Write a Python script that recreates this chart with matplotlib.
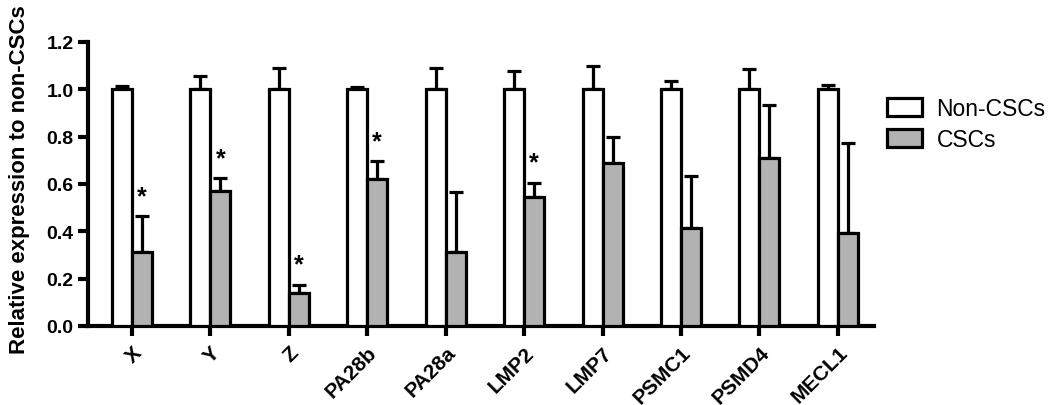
import matplotlib.pyplot as plt
import numpy as np

plt.rcParams['font.family'] = ['Liberation Sans', 'DejaVu Sans']

genes = ['X', 'Y', 'Z', 'PA28b', 'PA28a', 'LMP2', 'LMP7', 'PSMC1', 'PSMD4', 'MECL1']
non_cscs = [1.0, 1.0, 1.0, 1.0, 1.0, 1.0, 1.0, 1.0, 1.0, 1.0]
non_cscs_err = [0.012, 0.057, 0.089, 0.008, 0.089, 0.077, 0.10, 0.036, 0.084, 0.018]
cscs = [0.311, 0.570, 0.139, 0.620, 0.314, 0.545, 0.689, 0.415, 0.710, 0.392]
cscs_err = [0.152, 0.054, 0.036, 0.076, 0.253, 0.059, 0.111, 0.217, 0.224, 0.381]
significant = [True, True, True, True, False, True, False, False, False, False]

def plot_bars(genes, a, a_err, b, b_err, sig):
    fig = plt.figure(figsize=(10.5, 4.06), dpi=100)
    ax = fig.add_axes([0.0838, 0.1946, 0.7486, 0.6995])
    x = np.arange(len(genes))
    w = 0.255
    lw = 2.3
    ax.bar(x - w/2, a, w, color='white', edgecolor='black', linewidth=lw,
           label='Non-CSCs', zorder=3)
    ax.bar(x + w/2, b, w, color='#b2b2b2', edgecolor='black', linewidth=lw,
           label='CSCs', zorder=3)
    ax.errorbar(x - w/2, a, yerr=[np.zeros(len(a)), a_err], fmt='none',
                ecolor='black', elinewidth=2.3, capsize=5, capthick=2.3, zorder=2)
    ax.errorbar(x + w/2, b, yerr=[np.zeros(len(b)), b_err], fmt='none',
                ecolor='black', elinewidth=2.3, capsize=5, capthick=2.3, zorder=2)
    for i in range(len(genes)):
        if sig[i]:
            ax.text(x[i] + w/2, b[i] + b_err[i] + 0.035, '*', ha='center',
                    va='bottom', fontsize=18, fontweight='bold')

    ax.set_xlim(-0.56, len(genes) - 0.54)
    ax.set_ylim(0, 1.2)
    ax.set_yticks(np.arange(0, 1.21, 0.2))
    ax.set_yticklabels([f'{v:.1f}' for v in np.arange(0, 1.21, 0.2)],
                       fontsize=14, fontweight='bold')
    ax.set_xticks(x)
    ax.set_xticklabels(genes, rotation=45, ha='right', rotation_mode='anchor',
                       fontsize=15, fontweight='bold')
    ax.set_ylabel('Relative expression to non-CSCs', fontsize=16, fontweight='bold')
    ax.yaxis.set_label_coords(-0.074, 0.52)
    for s in ['top', 'right']:
        ax.spines[s].set_visible(False)
    for s in ['left', 'bottom']:
        ax.spines[s].set_linewidth(3)
    ax.tick_params(axis='both', direction='out', length=7, width=3)
    ax.tick_params(axis='x', pad=5)
    fig.legend(loc='upper left', bbox_to_anchor=(0.845, 0.758), frameon=False,
               fontsize=16.5, handlelength=1.5, handleheight=0.85,
               handletextpad=0.65, labelspacing=0.35, borderpad=0,
               borderaxespad=0)
    fig.savefig('out.png', dpi=100)

if __name__ == '__main__':
    plot_bars(genes, non_cscs, non_cscs_err, cscs, cscs_err, significant)
